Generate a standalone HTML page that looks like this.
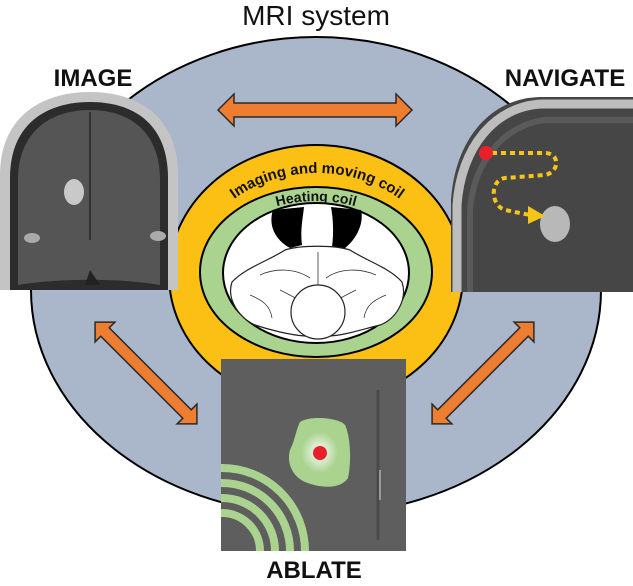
<!DOCTYPE html>
<html><head><meta charset="utf-8"><style>
html,body{margin:0;padding:0;background:#fff;overflow:hidden;width:633px;height:586px;}
svg{display:block;}
text{font-family:"Liberation Sans",sans-serif;}
</style></head><body>
<svg width="633" height="586" viewBox="0 0 633 586" xmlns="http://www.w3.org/2000/svg">
<defs>
<radialGradient id="rg" cx="0.5" cy="0.5" r="0.5">
<stop offset="0" stop-color="#ffffff"/><stop offset="0.6" stop-color="#a9d38f"/><stop offset="1" stop-color="#a9d38f"/>
</radialGradient>
<path id="op" d="M 193,275 A 124,102 0 0 1 441,275"/>
<path id="gp" d="M 212,272 A 104,71 0 0 1 420,272"/>
<clipPath id="ac"><rect x="221" y="359" width="185" height="192"/></clipPath>
</defs>
<text x="316" y="25" font-size="28" text-anchor="middle" fill="#111">MRI system</text>
<path d="M 31,290 A 285,253 0 0 1 601,290 A 285,225 0 0 1 31,290 Z" fill="#aab6c9" stroke="#000" stroke-width="2"/>
<ellipse cx="316" cy="275" rx="147" ry="130" fill="#fcbf14" stroke="#000" stroke-width="2"/>
<ellipse cx="316" cy="272" rx="116" ry="85" fill="#a9d38f" stroke="#000" stroke-width="2"/>
<ellipse cx="316" cy="273" rx="93" ry="70" fill="#fff" stroke="#000" stroke-width="2"/>
<path d="M273,210 C268,225 275,240 290,248 L302,245 C300,230 303,217 304,207 Z" fill="#000"/>
<path d="M331,207 C333,218 334,232 332,247 L344,249 C358,238 364,222 361,210 Z" fill="#000"/>
<path d="M232,282 C245,268 270,260 285,250 C300,245 335,245 350,250 C365,260 390,268 402,282 C408,300 395,320 380,325 C360,330 345,335 330,336 L305,336 C290,335 270,330 255,325 C240,318 226,300 232,282 Z" fill="#fff" stroke="#222" stroke-width="1.2"/>
<path d="M260,275 C275,268 295,268 310,278 M326,278 C340,268 360,268 376,275 M318,252 L318,290 M250,295 C262,300 270,305 272,318 M386,295 C374,300 366,305 364,318 M280,290 C290,295 300,300 305,305 M356,290 C346,295 336,300 331,305" fill="none" stroke="#333" stroke-width="0.8"/>
<circle cx="318" cy="312" r="27" fill="#fff" stroke="#222" stroke-width="1.2"/>
<text font-size="15" font-weight="bold" fill="#111"><textPath href="#op" startOffset="50%" text-anchor="middle">Imaging and moving coil</textPath></text>
<text font-size="14" font-weight="bold" fill="#111"><textPath href="#gp" startOffset="50%" text-anchor="middle">Heating coil</textPath></text>
<g fill="#ed7d31" stroke="#2a2a2a" stroke-width="1.5">
<path d="M218,110 L234,94 L234,103 L396,103 L396,94 L412,110 L396,126 L396,117 L234,117 L234,126 Z"/>
<g transform="translate(146,373) rotate(45)"><path d="M-72,0 L-58,-14 L-58,-6 L58,-6 L58,-14 L72,0 L58,14 L58,6 L-58,6 L-58,14 Z"/></g>
<g transform="translate(483,373) rotate(-45)"><path d="M-72,0 L-58,-14 L-58,-6 L58,-6 L58,-14 L72,0 L58,14 L58,6 L-58,6 L-58,14 Z"/></g>
</g>
<path d="M0,290 L0,175 C0,118 40,92 90,92 C140,92 178,118 178,175 L178,290 Z" fill="#c4c4c4"/>
<path d="M10,290 L10,178 C10,125 45,102 90,102 C135,102 168,125 168,178 L168,290 Z" fill="#2c2c2c"/>
<path d="M18,285 L18,180 C18,132 50,110 90,110 C130,110 160,132 160,180 L160,285 C120,278 60,278 18,285 Z" fill="#555"/>
<line x1="90" y1="112" x2="90" y2="240" stroke="#333" stroke-width="2"/>
<ellipse cx="74" cy="192" rx="10" ry="13" fill="#c9c9c9"/>
<ellipse cx="32" cy="238" rx="8" ry="5" fill="#aaa"/>
<ellipse cx="158" cy="236" rx="8" ry="5" fill="#aaa"/>
<path d="M85,285 L90,270 L100,285 Z" fill="#222"/>
<text x="93" y="86" font-size="24" font-weight="bold" text-anchor="middle" fill="#111">IMAGE</text>
<path d="M451,292 L451,200 C455,140 490,98 540,97 L633,97 L633,292 Z" fill="#464646"/>
<path d="M457,292 L457,205 C461,148 494,106 542,104 L633,104" fill="none" stroke="#bdbdbd" stroke-width="9"/>
<path d="M470,292 L470,210 C474,160 505,125 545,120 L633,120" fill="none" stroke="#5a5a5a" stroke-width="6"/>
<ellipse cx="555" cy="224" rx="15" ry="18" fill="#b8b8b8"/>
<path d="M492,153 L545,153 C560,153 560,172 545,175 L505,178 C490,180 490,205 505,210 L530,215" fill="none" stroke="#f5c518" stroke-width="4" stroke-dasharray="5,4"/>
<path d="M528,206 L545,216 L528,224 Z" fill="#f5c518"/>
<circle cx="486" cy="153" r="7" fill="#e8202a"/>
<text x="565" y="86" font-size="24" font-weight="bold" text-anchor="middle" fill="#111">NAVIGATE</text>
<rect x="221" y="359" width="185" height="192" fill="#5e5e5e"/>
<g clip-path="url(#ac)">
<line x1="378" y1="390" x2="378" y2="540" stroke="#4a4a4a" stroke-width="3"/>
<line x1="380" y1="470" x2="380" y2="500" stroke="#9a9a9a" stroke-width="2"/>
<g fill="none" stroke="#a9d38f" stroke-width="8">
<circle cx="222" cy="551" r="83"/>
<circle cx="222" cy="551" r="68"/>
<circle cx="222" cy="551" r="53"/>
<circle cx="222" cy="551" r="38"/>
</g>
</g>
<path d="M300,422 C310,415 340,418 345,425 C350,435 352,460 348,478 C340,490 320,488 305,482 C290,475 287,460 290,450 C295,440 296,430 300,422 Z" fill="url(#rg)"/>
<circle cx="320" cy="453" r="7" fill="#e8202a"/>
<text x="314" y="578" font-size="24" font-weight="bold" text-anchor="middle" fill="#111">ABLATE</text>
</svg>
</body></html>
